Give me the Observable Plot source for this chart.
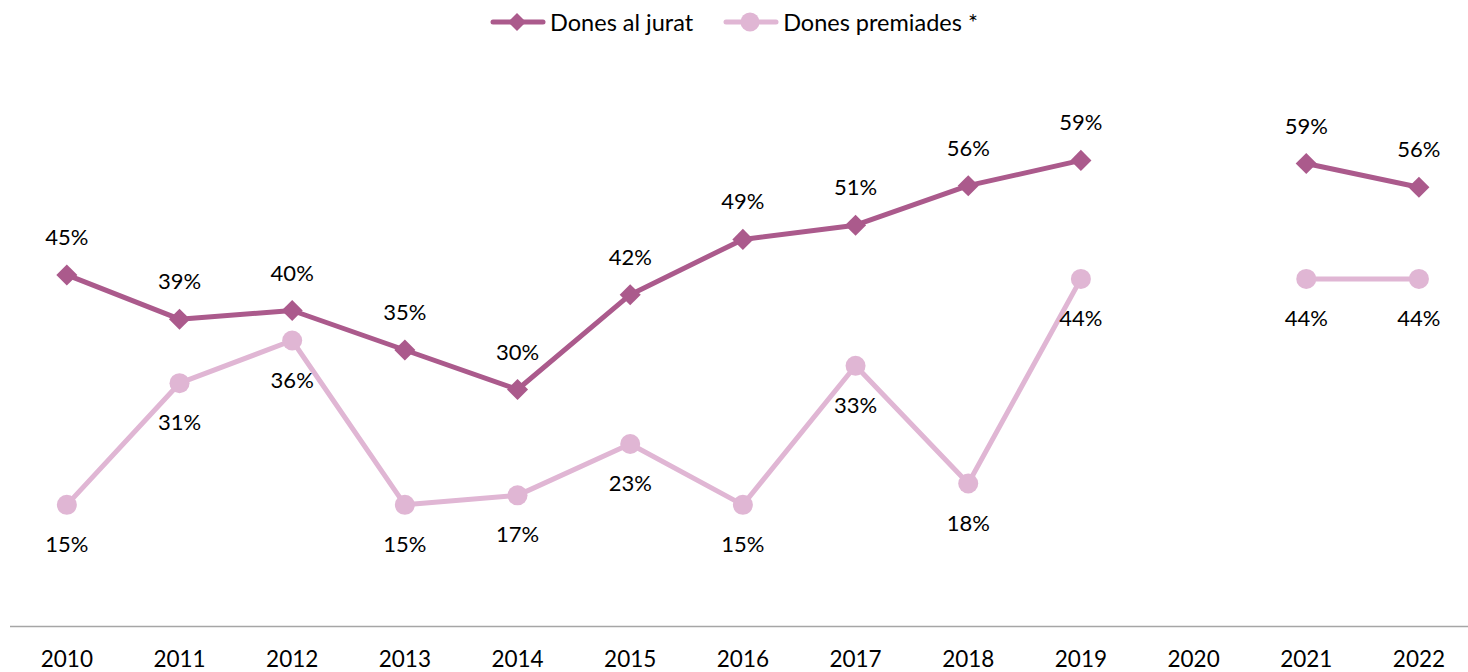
<!DOCTYPE html>
<html>
<head>
<meta charset="utf-8">
<script src="https://cdn.jsdelivr.net/npm/d3@7"></script>
<script src="https://cdn.jsdelivr.net/npm/@observablehq/plot@0.6"></script>
<style>
  html, body { margin: 0; padding: 0; background: #ffffff; }
  body { width: 1468px; height: 672px; overflow: hidden; font-family: Lato, "Open Sans", sans-serif; }
  #legend { height: 44px; display: flex; justify-content: center; align-items: center; font-size: 23.5px; color: #000; }
  .item { display: flex; align-items: center; }
  .item svg { display: block; margin-right: 4px; }
  .item + .item { margin-left: 30px; }
  #chart svg { display: block; }
</style>
</head>
<body>
<div id="legend"></div>
<div id="chart"></div>
<script>
const years = [2010, 2011, 2012, 2013, 2014, 2015, 2016, 2017, 2018, 2019, 2020, 2021, 2022];
const donesJurat = [44.5, 38.9, 40, 35, 30, 42, 49, 50.8, 55.8, 59, null, 58.6, 55.6];
const donesPremiades = [15.4, 30.8, 36.2, 15.4, 16.6, 23.1, 15.4, 33, 18.1, 44, null, 44, 44];
const juratLabels = ["45%", "39%", "40%", "35%", "30%", "42%", "49%", "51%", "56%", "59%", null, "59%", "56%"];
const premiadesLabels = ["15%", "31%", "36%", "15%", "17%", "23%", "15%", "33%", "18%", "44%", null, "44%", "44%"];
const seriesNames = ["Dones al jurat", "Dones premiades *"];
const colors = ["#AB5A8C", "#E0B6D4"];

const juratData = years.map((y, i) => ({year: y, value: donesJurat[i], label: juratLabels[i]}));
const premData = years.map((y, i) => ({year: y, value: donesPremiades[i], label: premiadesLabels[i]}));
const juratPts = juratData.filter(d => d.value != null);
const premPts = premData.filter(d => d.value != null);

// Legend
const legend = document.getElementById("legend");
seriesNames.forEach((name, i) => {
  const item = document.createElement("div");
  item.className = "item";
  const marker = i === 0
    ? `<path d="M27,2 L36,11 L27,20 L18,11 Z" fill="${colors[0]}"/>`
    : `<circle cx="27" cy="11" r="9.5" fill="${colors[1]}"/>`;
  item.innerHTML = `<svg width="56" height="22"><line x1="3" y1="11" x2="53" y2="11" stroke="${colors[i]}" stroke-width="5" stroke-linecap="round"/>${marker}</svg><span>${name}</span>`;
  legend.appendChild(item);
});

const chart = Plot.plot({
  width: 1468,
  height: 628,
  marginTop: 29,
  marginBottom: 46,
  marginLeft: 10,
  marginRight: 0,
  style: {fontFamily: "Lato, 'Open Sans', sans-serif", fontSize: "22px", color: "#000", background: "#fff"},
  x: {type: "linear", domain: [2009.5, 2022.44], range: [10, 1468]},
  y: {domain: [0, 70], axis: null},
  marks: [
    Plot.ruleY([0], {stroke: "#A6A6A6", strokeWidth: 1.5}),
    Plot.axisX({ticks: years, tickSize: 0, tickPadding: 25, tickFormat: d => String(d), label: null, fontSize: 22.5, fill: "#000"}),
    Plot.line(premData, {x: "year", y: "value", stroke: colors[1], strokeWidth: 5, curve: "linear"}),
    Plot.dot(premPts, {x: "year", y: "value", r: 10, fill: colors[1], stroke: "none", symbol: "circle"}),
    Plot.line(juratData, {x: "year", y: "value", stroke: colors[0], strokeWidth: 5, curve: "linear"}),
    Plot.dot(juratPts, {x: "year", y: "value", r: 9.5, fill: colors[0], stroke: "none", symbol: "diamond2"}),
    Plot.text(juratPts, {x: "year", y: "value", text: "label", dy: -37, fontSize: 22, fill: "#000", lineAnchor: "middle"}),
    Plot.text(premPts, {x: "year", y: "value", text: "label", dy: 40, fontSize: 22, fill: "#000", lineAnchor: "middle"})
  ]
});
document.getElementById("chart").appendChild(chart);
</script>
</body>
</html>
